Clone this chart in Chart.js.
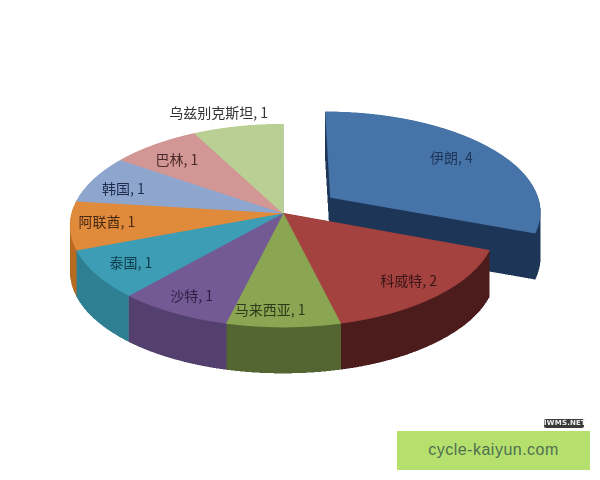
<!DOCTYPE html>
<html>
<head>
<meta charset="utf-8">
<script src="https://cdn.jsdelivr.net/npm/chart.js@4/dist/chart.umd.min.js"></script>
<style>
  html, body { margin: 0; padding: 0; background: #fff; }
  #wrap { position: relative; width: 600px; height: 480px; overflow: hidden; }
  #site { position: absolute; left: 397px; top: 431px; width: 193px; height: 39px;
    background: #b5e06e; color: #4f6f50; text-align: center; font: 16px/38px "Liberation Sans", sans-serif; letter-spacing: 0.5px; }
  #mark { position: absolute; left: 544px; top: 419px; width: 40px; height: 9px; background: #3a3a3a; color: #eee;
    text-align: center; font: bold 7px/9px "DejaVu Sans", sans-serif; letter-spacing: 0.2px; border-radius: 2px; }
</style>
</head>
<body>
<div id="wrap">
  <canvas id="pie" width="600" height="480"></canvas>
  <div id="mark">IWMS.NET</div>
  <div id="site">cycle-kaiyun.com</div>
</div>
<script>
const countries = ['伊朗', '科威特', '马来西亚', '沙特', '泰国', '阿联酋', '韩国', '巴林', '乌兹别克斯坦'];
const counts = [4, 2, 1, 1, 1, 1, 1, 1, 1];
const topColors = ['#4674a8', '#a4423f', '#8ba653', '#745a94', '#3c9db4', '#e08a3c', '#8ea6ce', '#d29694', '#b9cf94'];
const wallColors = ['#1d3557', '#4c1c1c', '#536530', '#54406f', '#2e7f92', '#b86a20', '#5a6c8c', '#8c6260', '#7c8c60'];
const textColors = ['#1d3557', '#3a1515', '#2e3a1a', '#2e2045', '#0f3c4a', '#4a2a10', '#1e2c4e', '#4a2a2a', '#333333'];
const explode = [0.28, 0, 0, 0, 0, 0, 0, 0, 0];
// label distance from the centre (1 = rim) and a small angle nudge in degrees
const labelRadius = [0.78, 0.83, 0.865, 0.845, 0.825, 0.83, 0.82, 0.785, 1.2];
const labelNudge = [0, 0, 3.6, 0, 0, 1, -2.8, -1.7, -3];

// the flat pie is tilted by a perspective map, these come from the picture
const tilt = { cx: 283, cy: 213, a: 100, b: 0.123, c: 211, depth: 46 };
const R = 200;
const SS = 2;

function layer() {
  const c = document.createElement('canvas');
  c.width = 600 * SS;
  c.height = 480 * SS;
  return c;
}

function project(u, v) {
  const k = 1 - tilt.b * v;
  return { x: tilt.cx + tilt.c * u / k, y: tilt.cy + tilt.a * v / k };
}

// copy the flat layer row by row through the perspective map
function warp(src) {
  const out = layer();
  const g = out.getContext('2d');
  for (let row = 0; row < out.height; row++) {
    const yy = row / SS - tilt.cy;
    const v = yy / (tilt.a + tilt.b * yy);
    if (Math.abs(v) > 1.5) continue;
    const w = tilt.c / (1 - tilt.b * v);
    const srcY = (240 + v * R) * SS;
    if (srcY < 0 || srcY >= src.height - 1) continue;
    const left = (tilt.cx - 300 / R * w) * SS;
    g.drawImage(src, 0, srcY, src.width, 1, left, row, 600 / R * w * SS, 1);
  }
  return out;
}

function flatSlices(arcs, indexes, colors) {
  const c = layer();
  const g = c.getContext('2d');
  g.scale(SS, SS);
  indexes.forEach(i => {
    const arc = arcs[i];
    const mid = (arc.startAngle + arc.endAngle) / 2;
    const saved = arc.options;
    arc.options = Object.assign({}, saved, { backgroundColor: colors[i], borderColor: colors[i] });
    g.save();
    g.translate(Math.cos(mid) * explode[i] * R, Math.sin(mid) * explode[i] * R);
    arc.draw(g);
    g.restore();
    arc.options = saved;
  });
  return c;
}

// snap every pixel to a pure wall colour, the stack repeats the rim pixel all the way down
const wallRgb = wallColors.map(h => [1, 3, 5].map(p => parseInt(h.substr(p, 2), 16)));
function hardEdges(c) {
  const g = c.getContext('2d');
  const img = g.getImageData(0, 0, c.width, c.height);
  const d = img.data;
  for (let i = 0; i < d.length; i += 4) {
    if (d[i + 3] === 0) continue;
    if (d[i + 3] < 128) { d[i + 3] = 0; continue; }
    let best = wallRgb[0], bestDist = Infinity;
    wallRgb.forEach(rgb => {
      const dist = Math.abs(rgb[0] - d[i]) + Math.abs(rgb[1] - d[i + 1]) + Math.abs(rgb[2] - d[i + 2]);
      if (dist < bestDist) { bestDist = dist; best = rgb; }
    });
    d[i] = best[0]; d[i + 1] = best[1]; d[i + 2] = best[2]; d[i + 3] = 255;
  }
  g.putImageData(img, 0, 0);
  return c;
}

function stackWall(wall) {
  const out = layer();
  const g = out.getContext('2d');
  g.imageSmoothingEnabled = false;
  for (let d = tilt.depth * SS; d > 0; d--) g.drawImage(wall, 0, d);
  return out;
}

const pie3d = {
  id: 'pie3d',
  beforeDatasetsDraw(chart) {
    const ctx = chart.ctx;
    const arcs = chart.getDatasetMeta(0).data;
    const all = counts.map((n, i) => i);
    const groups = [all.filter(i => explode[i] > 0), all.filter(i => !explode[i])];
    ctx.save();
    ctx.filter = 'blur(0.4px)';
    groups.forEach(group => {
      const wall = stackWall(hardEdges(warp(flatSlices(arcs, group, wallColors))));
      const top = warp(flatSlices(arcs, group, topColors));
      ctx.drawImage(wall, 0, 0, 600, 480);
      ctx.drawImage(top, 0, 0, 600, 480);
    });
    ctx.restore();
    return false;
  },
  afterDraw(chart) {
    const ctx = chart.ctx;
    const arcs = chart.getDatasetMeta(0).data;
    ctx.save();
    ctx.font = '14px "Noto Sans CJK SC", sans-serif';
    ctx.textAlign = 'center';
    ctx.textBaseline = 'middle';
    arcs.forEach((arc, i) => {
      const mid = (arc.startAngle + arc.endAngle) / 2;
      const ang = mid + labelNudge[i] * Math.PI / 180;
      const u = Math.cos(mid) * explode[i] * 0.93 + Math.cos(ang) * labelRadius[i];
      const v = Math.sin(mid) * explode[i] * 0.93 + Math.sin(ang) * labelRadius[i];
      const p = project(u, v);
      ctx.fillStyle = textColors[i];
      ctx.fillText(countries[i] + ', ' + counts[i], p.x, p.y);
    });
    ctx.restore();
  }
};

new Chart(document.getElementById('pie').getContext('2d'), {
  type: 'pie',
  data: {
    labels: countries,
    datasets: [{
      data: counts,
      backgroundColor: topColors,
      borderColor: topColors,
      borderWidth: 1
    }]
  },
  options: {
    responsive: false,
    devicePixelRatio: 1,
    animation: false,
    radius: R,
    events: [],
    plugins: {
      legend: { display: false },
      tooltip: { enabled: false }
    }
  },
  plugins: [pie3d]
});
</script>
</body>
</html>
